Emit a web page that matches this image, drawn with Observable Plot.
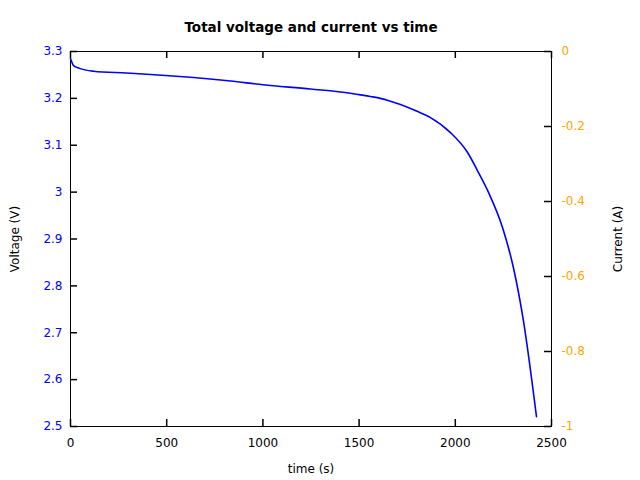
<!DOCTYPE html>
<html>
<head>
<meta charset="utf-8">
<script src="https://cdn.jsdelivr.net/npm/d3@7"></script>
<script src="https://cdn.jsdelivr.net/npm/@observablehq/plot@0.6"></script>
<style>
  html, body { margin: 0; padding: 0; background: #fff; }
  #chart { width: 640px; height: 480px; }
</style>
</head>
<body>
<div id="chart"></div>
<script>
const title = "Total voltage and current vs time";
const time = [0, 16, 47, 120, 291, 416, 832, 1000, 1247, 1455, 1500, 1559, 1611, 1663, 1715, 1798, 1871, 1975, 2063, 2115, 2173, 2245, 2303, 2354, 2422];
const voltage = [3.285, 3.270, 3.264, 3.258, 3.254, 3.251, 3.237, 3.229, 3.220, 3.211, 3.208, 3.204, 3.200, 3.194, 3.187, 3.173, 3.159, 3.127, 3.085, 3.046, 2.999, 2.925, 2.837, 2.726, 2.521];
const timeTicks = [0, 500, 1000, 1500, 2000, 2500];
const voltageTicks = [2.5, 2.6, 2.7, 2.8, 2.9, 3.0, 3.1, 3.2, 3.3];
const currentTicks = [0, -0.2, -0.4, -0.6, -0.8, -1];
const vDomain = [2.5, 3.3];
const cDomain = [-1, 0];

const data = time.map((t, i) => ({t, v: voltage[i]}));
// map current values onto the voltage scale (secondary axis)
const c2v = c => vDomain[0] + (c - cDomain[0]) / (cDomain[1] - cDomain[0]) * (vDomain[1] - vDomain[0]);
const currentPos = currentTicks.map(c2v);

const W = 640, H = 480, ML = 70, MR = 89, MT = 51, MB = 54;
const fw = W - ML - MR, fh = H - MT - MB, tl = 7;

const font = "DejaVu Sans, sans-serif";
const blue = "#0000ff";
const orange = "#ffa500";
const none = () => "";
const tk = {stroke: "black", strokeWidth: 1.5};

const chart = Plot.plot({
  width: W,
  height: H,
  marginLeft: ML,
  marginRight: MR,
  marginTop: MT,
  marginBottom: MB,
  style: {fontFamily: font, fontSize: "12px", background: "#fff", overflow: "visible"},
  x: {domain: [0, 2500]},
  y: {domain: vDomain},
  marks: [
    Plot.axisX(timeTicks, {anchor: "bottom", tickSize: 0, tickPadding: 12, tickFormat: d => String(d), label: "time (s)", labelAnchor: "center", labelArrow: "none", labelOffset: 46, fontSize: 12}),
    Plot.axisY(voltageTicks, {anchor: "left", tickSize: 0, tickPadding: 8, tickFormat: d => String(+d.toFixed(1)), label: null, color: blue, fontSize: 12}),
    Plot.axisY(voltageTicks, {anchor: "left", tickSize: 0, tickFormat: none, label: "Voltage (V)", labelAnchor: "center", labelArrow: "none", labelOffset: 60, fontSize: 12}),
    Plot.axisY(currentPos, {anchor: "right", tickSize: 0, tickPadding: 10, tickFormat: (d, i) => String(currentTicks[i]), label: null, color: orange, fontSize: 12}),
    Plot.axisY(currentPos, {anchor: "right", tickSize: 0, tickFormat: none, label: "Current (A)", labelAnchor: "center", labelArrow: "none", labelOffset: 70, fontSize: 12}),
    // inward ticks
    Plot.tickX(timeTicks, {x: d => d, insetTop: fh - tl, ...tk}),
    Plot.tickX(timeTicks, {x: d => d, insetBottom: fh - tl, ...tk}),
    Plot.tickY(voltageTicks, {y: d => d, insetRight: fw - tl, ...tk}),
    Plot.tickY(currentPos, {y: d => d, insetLeft: fw - tl, ...tk}),
    Plot.frame({stroke: "black", strokeWidth: 1}),
    Plot.line(data, {x: "t", y: "v", stroke: blue, strokeWidth: 1.6, curve: "monotone-x"}),
    Plot.text([title], {frameAnchor: "top", dy: -29, fontWeight: "bold", fontSize: 13.5, fill: "black"})
  ]
});
document.getElementById("chart").appendChild(chart);
</script>
</body>
</html>
